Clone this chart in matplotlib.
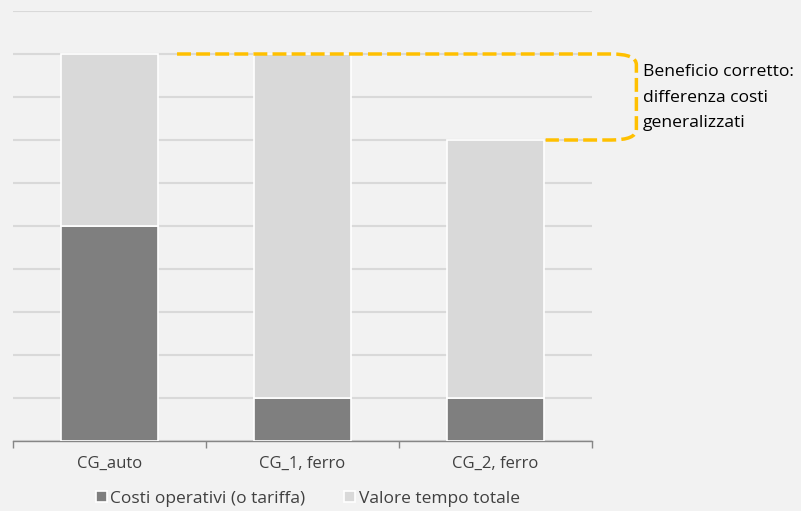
import matplotlib.pyplot as plt
import numpy as np
from matplotlib.path import Path
from matplotlib.patches import PathPatch

categorie = ["CG_auto", "CG_1, ferro", "CG_2, ferro"]
costi_operativi = [5, 1, 1]
valore_tempo = [4, 8, 6]
serie = ["Costi operativi (o tariffa)", "Valore tempo totale"]
nota = "Beneficio corretto:\ndifferenza costi\ngeneralizzati"

plt.rcParams['font.family'] = ['Open Sans', 'DejaVu Sans']

fig = plt.figure(figsize=(8.01, 5.11), dpi=100)
fig.patch.set_facecolor('#f2f2f2')
ax = fig.add_axes([13/801, 70/511, 579/801, 430/511])
ax.set_facecolor('#f2f2f2')

x = np.arange(len(categorie))
ax.bar(x, costi_operativi, 0.5, color='#7f7f7f', edgecolor='white', linewidth=1.2,
       label=serie[0], zorder=3)
ax.bar(x, valore_tempo, 0.5, bottom=costi_operativi, color='#d9d9d9', edgecolor='white',
       linewidth=1.2, label=serie[1], zorder=3)

ax.set_xlim(-0.5, 2.5)
ax.set_ylim(0, 10)
ax.set_yticks(np.arange(0, 11))
ax.yaxis.grid(True, color='#d9d9d9', linewidth=1.5, zorder=0)
ax.tick_params(axis='y', length=0, labelleft=False)
ax.set_xticks(x)
ax.set_xticklabels(categorie, fontsize=12, color='#404040')
ax.tick_params(axis='x', which='major', length=0, pad=11)
ax.set_xticks([-0.5, 0.5, 1.5, 2.5], minor=True)
ax.tick_params(axis='x', which='minor', length=5, color='#868686', width=1)
for s in ['top', 'right', 'left']:
    ax.spines[s].set_visible(False)
ax.spines['bottom'].set_color('#868686')
ax.spines['bottom'].set_linewidth(1)

# parentesi gialla tra i totali di CG_1 e CG_2
top = costi_operativi[1] + valore_tempo[1]
bot = costi_operativi[2] + valore_tempo[2]
verts = [(0.35, top), (2.6, top), (2.73, top), (2.73, top - 0.25),
         (2.73, bot + 0.25), (2.73, bot), (2.6, bot), (2.26, bot)]
codes = [Path.MOVETO, Path.LINETO, Path.CURVE3, Path.CURVE3,
         Path.LINETO, Path.CURVE3, Path.CURVE3, Path.LINETO]
ax.add_patch(PathPatch(Path(verts, codes), fill=False, edgecolor='#ffc000', linewidth=2.5,
                       linestyle=(0, (4, 1.5)), clip_on=False, zorder=4))
ax.text(2.765, (top + bot) / 2 - 0.02, nota, fontsize=12.6, ha='left', va='center',
        linespacing=1.8, color='black')

fig.legend(loc='lower center', bbox_to_anchor=(0.384, -0.022), ncol=2, frameon=False,
           fontsize=12.5, handlelength=0.65, handleheight=0.65, columnspacing=2.2,
           handletextpad=0.2, labelcolor='#404040')

fig.savefig('out.png', dpi=100, facecolor=fig.get_facecolor())
